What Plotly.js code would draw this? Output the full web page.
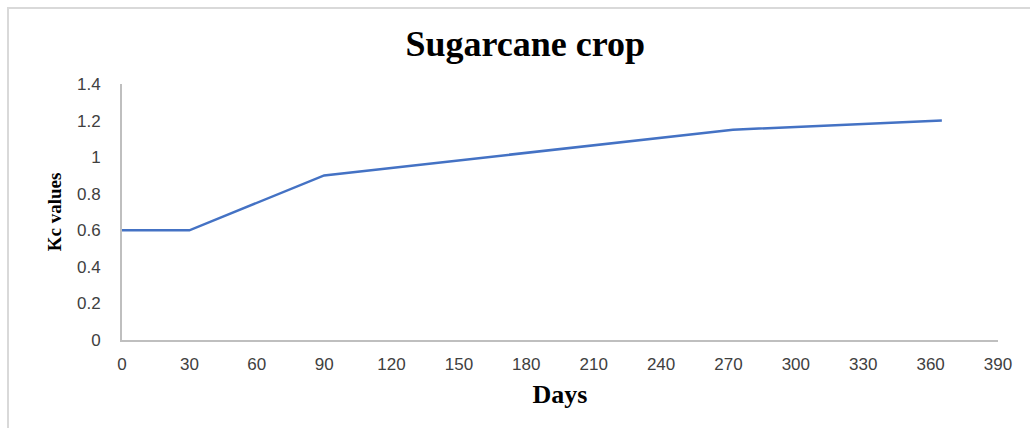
<!DOCTYPE html>
<html>
<head>
<meta charset="utf-8">
<script src="https://cdn.plot.ly/plotly-3.0.1.min.js"></script>
<style>
  html, body { margin: 0; padding: 0; background: #ffffff; }
  #wrap { position: relative; width: 1030px; height: 428px; overflow: hidden; }
  #chart { position: absolute; left: 0; top: 0; width: 1030px; height: 428px; }
  #frame { position: absolute; left: 7px; top: 7px; right: -4px; bottom: -4px;
           border-left: 2px solid #d9d9d9; border-top: 2px solid #d9d9d9; pointer-events: none; }
</style>
</head>
<body>
<div id="wrap">
  <div id="chart"></div>
  <div id="frame"></div>
</div>
<script>
// Data
const days = [0, 30, 90, 272, 365];
const kcValues = [0.6, 0.6, 0.9, 1.15, 1.2];
const xTickVals = [0, 30, 60, 90, 120, 150, 180, 210, 240, 270, 300, 330, 360, 390];
const yTickVals = [0, 0.2, 0.4, 0.6, 0.8, 1, 1.2, 1.4];
const yTickText = ['0', '0.2', '0.4', '0.6', '0.8', '1', '1.2', '1.4'];

const trace = {
  x: days,
  y: kcValues,
  type: 'scatter',
  mode: 'lines',
  line: { color: '#4472C4', width: 2.5 },
  hoverinfo: 'x+y'
};

const tickFont = { family: 'Liberation Sans, Arial, sans-serif', size: 17, color: '#404040' };
const serifBold = 'Liberation Serif, Times New Roman, serif';

const layout = {
  width: 1030,
  height: 428,
  margin: { l: 122, r: 32, t: 84, b: 88 },
  paper_bgcolor: '#ffffff',
  plot_bgcolor: '#ffffff',
  showlegend: false,
  title: {
    text: 'Sugarcane crop',
    font: { family: serifBold, size: 36, color: '#000000', weight: 'bold' },
    x: 0.51, xanchor: 'center',
    y: 1 - 43 / 428, yanchor: 'middle', yref: 'container'
  },
  xaxis: {
    range: [0, 390],
    tickvals: xTickVals,
    ticks: '',
    showgrid: false,
    zeroline: false,
    showline: true,
    linecolor: '#bfbfbf',
    linewidth: 2,
    tickfont: tickFont,
    ticklabelstandoff: 8,
    fixedrange: true,
    automargin: false,
    title: {
      text: 'Days',
      font: { family: serifBold, size: 26, color: '#000000', weight: 'bold' },
      standoff: 11
    }
  },
  yaxis: {
    range: [0, 1.4],
    tickvals: yTickVals,
    ticktext: yTickText,
    ticks: '',
    showgrid: false,
    zeroline: false,
    showline: true,
    linecolor: '#bfbfbf',
    linewidth: 2,
    tickfont: tickFont,
    ticklabelstandoff: 16,
    fixedrange: true,
    automargin: false,
    title: {
      text: 'Kc values',
      font: { family: serifBold, size: 19, color: '#000000', weight: 'bold' },
      standoff: 10
    }
  }
};

Plotly.newPlot('chart', [trace], layout, { displayModeBar: false, staticPlot: true });
</script>
</body>
</html>
